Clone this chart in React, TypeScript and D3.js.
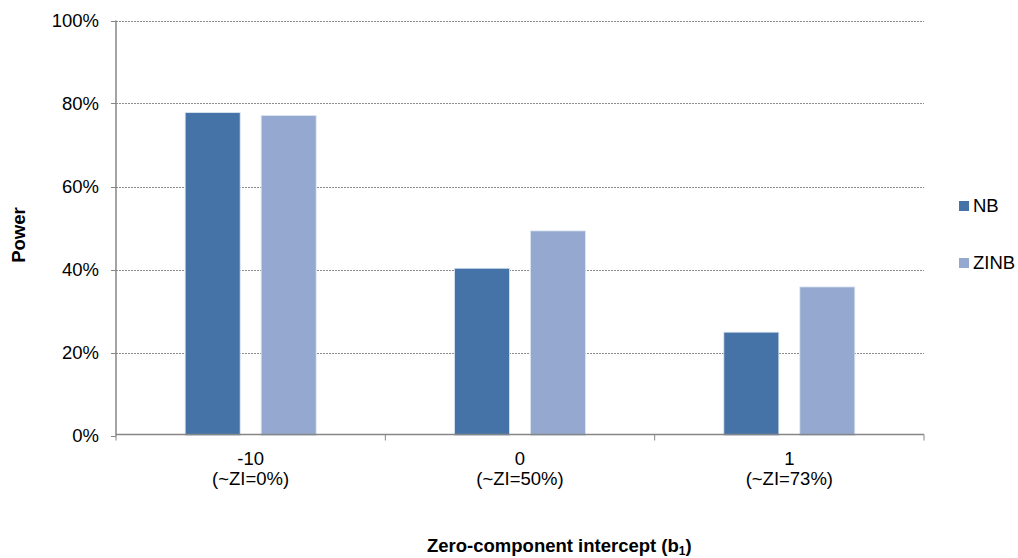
import React from "react";
import * as d3 from "d3";

const categories = ["-10", "0", "1"];
const subLabels = ["(~ZI=0%)", "(~ZI=50%)", "(~ZI=73%)"];
const seriesNames = ["NB", "ZINB"];
const nbValues = [0.778, 0.403, 0.249];
const zinbValues = [0.771, 0.493, 0.358];
const yTicks = [0, 0.2, 0.4, 0.6, 0.8, 1.0];
const colors = ["#4573A7", "#95A9D0"];

export default function App() {
  const W = 1018, H = 558;
  const left = 116, right = 924, top = 20.5, bottom = 435.5;
  const x = d3.scaleBand<string>().domain(categories).range([left, right]);
  const y = d3.scaleLinear().domain([0, 1]).range([bottom, top]);
  const barW = 55, gap = 21;
  const series = [nbValues, zinbValues];
  const font = "'Liberation Sans', Arial, sans-serif";
  const fs = 18.5;
  const boundaries = [left, ...categories.map((c) => (x(c) as number) + x.bandwidth())];

  return (
    <svg width={W} height={H} style={{ position: "absolute", left: 0, top: 0 }} fontFamily={font}>
      <rect width={W} height={H} fill="#fff" />
      {yTicks.filter((t) => t > 0).map((t) => (
        <line key={t} x1={left} x2={right} y1={Math.round(y(t)) + 0.5} y2={Math.round(y(t)) + 0.5}
          stroke="#8c8c8c" strokeWidth={1} strokeDasharray="2,1" />
      ))}
      {categories.map((c, i) => {
        const cx = (x(c) as number) + x.bandwidth() / 2;
        return series.map((vals, s) => {
          const bx = s === 0 ? cx - gap / 2 - barW : cx + gap / 2;
          return (
            <rect key={c + s} x={bx} y={y(vals[i])} width={barW} height={bottom - y(vals[i])}
              fill={colors[s]} stroke="#dce6f2" strokeWidth={0.8} />
          );
        });
      })}
      {/* y axis */}
      <line x1={left} x2={left} y1={top} y2={bottom} stroke="#868686" strokeWidth={1.5} />
      {yTicks.map((t) => (
        <g key={t}>
          <line x1={left - 5} x2={left} y1={Math.round(y(t)) + 0.5} y2={Math.round(y(t)) + 0.5} stroke="#868686" strokeWidth={1} />
          <text x={99} y={y(t)} dy="0.35em" textAnchor="end" fontSize={fs} fill="#000">
            {Math.round(t * 100) + "%"}
          </text>
        </g>
      ))}
      {/* x axis */}
      <line x1={left} x2={right} y1={bottom - 1} y2={bottom - 1} stroke="#868686" strokeWidth={1.5} />
      {boundaries.map((b, i) => (
        <line key={i} x1={b} x2={b} y1={bottom - 1} y2={bottom + 5} stroke="#868686" strokeWidth={1} />
      ))}
      {categories.map((c, i) => {
        const cx = (x(c) as number) + x.bandwidth() / 2;
        return (
          <g key={c}>
            <text x={cx} y={465} textAnchor="middle" fontSize={fs}>{c}</text>
            <text x={cx} y={485} textAnchor="middle" fontSize={fs}>{subLabels[i]}</text>
          </g>
        );
      })}
      <text transform={`translate(25,235) rotate(-90)`} textAnchor="middle" fontSize={fs} fontWeight="bold">Power</text>
      <text x={427} y={552} textAnchor="start" fontSize={fs} fontWeight="bold">
        Zero-component intercept (b<tspan fontSize={12} dy={3}>1</tspan><tspan dy={-3}>)</tspan>
      </text>
      {seriesNames.map((n, i) => (
        <g key={n}>
          <rect x={959} y={201 + i * 57} width={10} height={10} fill={colors[i]} />
          <text x={973} y={212 + i * 57} fontSize={fs}>{n}</text>
        </g>
      ))}
    </svg>
  );
}
